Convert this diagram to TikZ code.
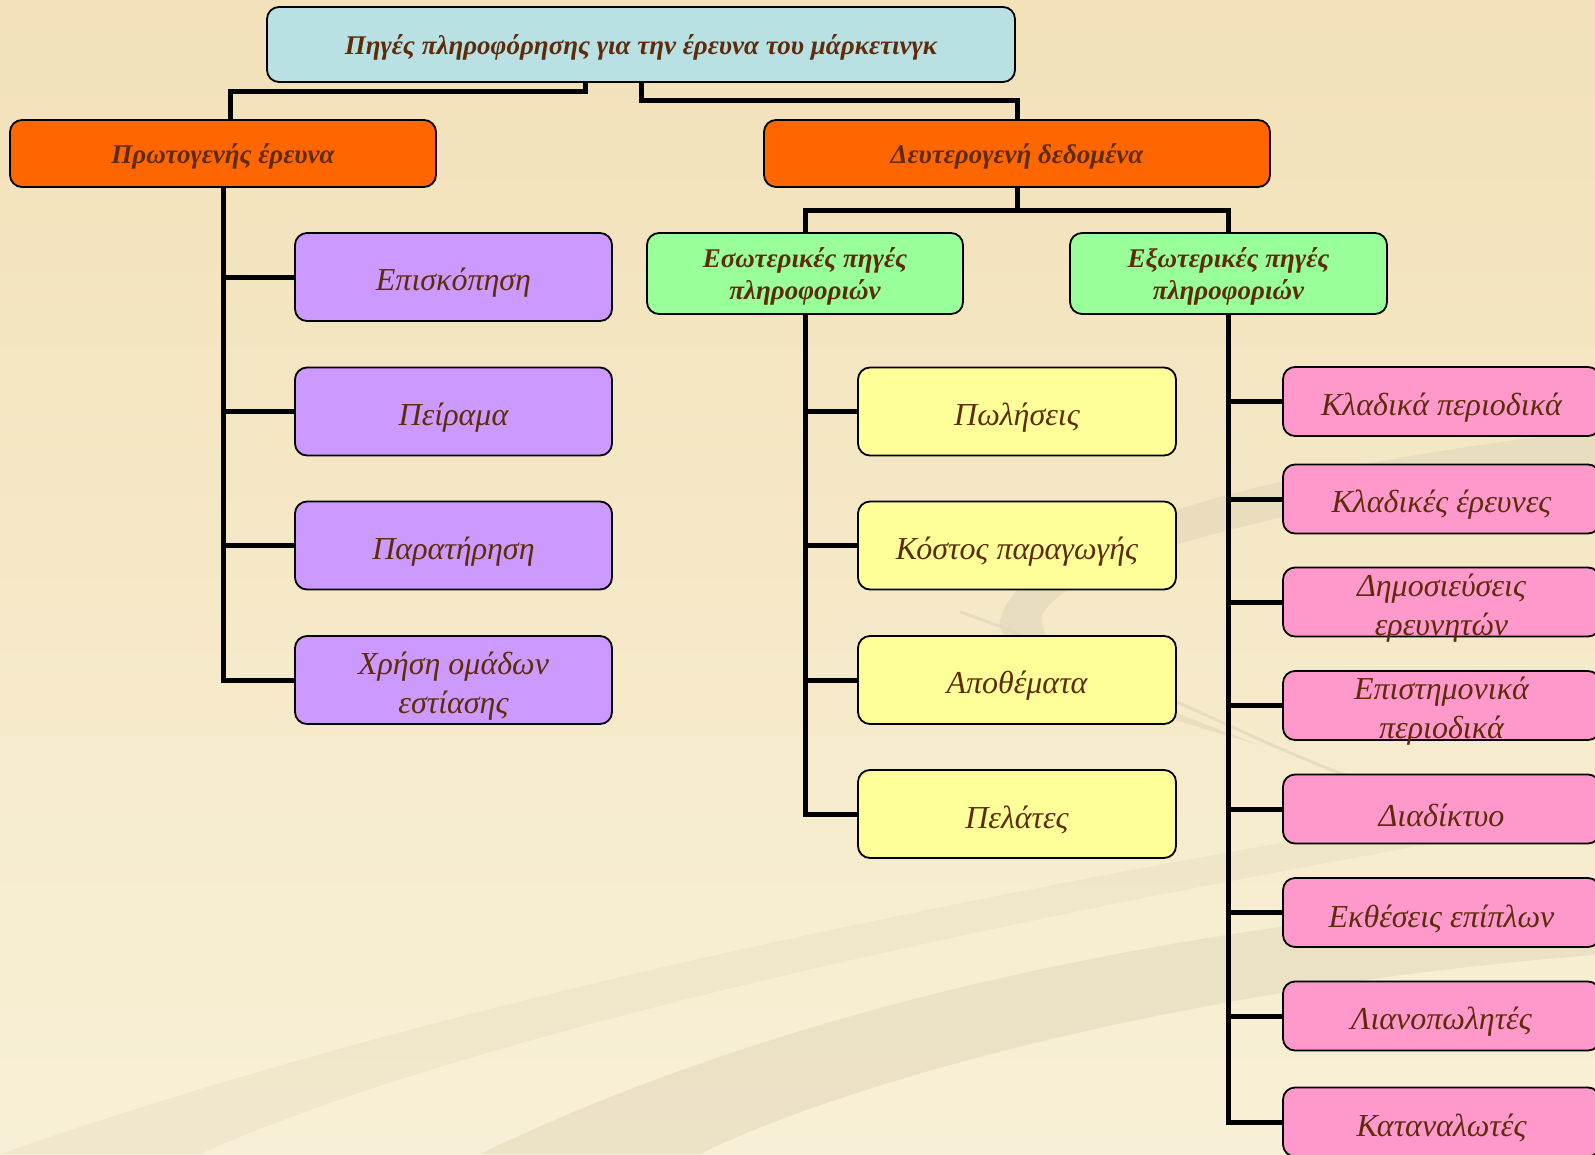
\documentclass[tikz,border=0pt]{standalone}
\usepackage{fontspec}
\setmainfont{Liberation Serif}
\usetikzlibrary{calc}
\definecolor{txt}{HTML}{5E2C0B}
\definecolor{bgtop}{HTML}{F2E1B9}
\definecolor{bgbot}{HTML}{F8F0D6}
\definecolor{swirl}{HTML}{E4D9BC}
\definecolor{cblue}{HTML}{B9E0E3}
\definecolor{corange}{HTML}{FF6600}
\definecolor{cpurple}{HTML}{CC99FF}
\definecolor{cgreen}{HTML}{99FF99}
\definecolor{cyellow}{HTML}{FFFF99}
\definecolor{cpink}{HTML}{FF99CC}
\tikzset{
  box/.style={draw=black, line width=1.8pt, rounded corners=12pt, inner sep=0pt},
  hdrtext/.style={text=txt, align=center, inner sep=0pt, yshift=-3pt, font=\fontsize{27}{32}\selectfont\bfseries\itshape},
  itmtext/.style={text=txt, align=center, inner sep=0pt, yshift=-6pt, font=\fontsize{32}{39}\selectfont\itshape},
  conn/.style={draw=black, line width=5pt},
}
% \bx{style}{fill}{name}{position}{width}{height}{text}
\newcommand{\bx}[7]{%
  \node[box, fill=#2, minimum width=#5, minimum height=#6] (#3) at (#4) {};
  \node[#1] (#3t) at (#3.center) {#7};
}
\begin{document}
\begin{tikzpicture}[x=1pt,y=-1pt]
\useasboundingbox (0,0) rectangle (1595,1154);
\clip (0,0) rectangle (1595,1154);
\shade[top color=bgtop, bottom color=bgbot] (0,0) rectangle (1595,1154);
% background swirls
\fill[swirl, opacity=0.7] (1595,430) .. controls (1250,470) and (1020,540) .. (1000,620)
   .. controls (995,660) and (1100,700) .. (1260,745)
   .. controls (1110,690) and (1035,650) .. (1042,615)
   .. controls (1070,560) and (1300,500) .. (1595,468) -- cycle;
\fill[swirl, opacity=0.6] (480,1154) .. controls (800,1000) and (1200,920) .. (1595,895)
   -- (1595,955) .. controls (1200,985) and (850,1080) .. (700,1154) -- cycle;
\fill[swirl, opacity=0.35] (0,1154) .. controls (500,980) and (1100,870) .. (1595,790)
   -- (1595,815) .. controls (1100,900) and (500,1020) .. (200,1154) -- cycle;
\draw[swirl, line width=3pt, opacity=0.8] (960,612) .. controls (1100,660) and (1250,740) .. (1345,775);

% nodes
\bx{hdrtext}{cblue}{top}{641,44.5}{748}{75}{Πηγές πληροφόρησης για την έρευνα του μάρκετινγκ}
\bx{hdrtext}{corange}{prim}{223,153.5}{426}{67}{Πρωτογενής έρευνα}
\bx{hdrtext}{corange}{sec}{1017,153.5}{506}{67}{Δευτερογενή δεδομένα}

\bx{itmtext}{cpurple}{p1}{453.5,277}{317}{88}{Επισκόπηση}
\bx{itmtext}{cpurple}{p2}{453.5,411.5}{317}{88}{Πείραμα}
\bx{itmtext}{cpurple}{p3}{453.5,545.5}{317}{88}{Παρατήρηση}
\bx{itmtext}{cpurple}{p4}{453.5,680}{317}{88}{Χρήση ομάδων\\εστίασης}

\bx{hdrtext}{cgreen}{gl}{805,273.5}{316}{81}{Εσωτερικές πηγές\\πληροφοριών}
\bx{hdrtext}{cgreen}{gr}{1228.5,273.5}{317}{81}{Εξωτερικές πηγές\\πληροφοριών}

\bx{itmtext}{cyellow}{y1}{1017,411.5}{318}{88}{Πωλήσεις}
\bx{itmtext}{cyellow}{y2}{1017,545.5}{318}{88}{Κόστος παραγωγής}
\bx{itmtext}{cyellow}{y3}{1017,680}{318}{88}{Αποθέματα}
\bx{itmtext}{cyellow}{y4}{1017,814}{318}{88}{Πελάτες}

\bx{itmtext}{cpink}{k1}{1441.5,401.5}{317}{69}{Κλαδικά περιοδικά}
\bx{itmtext}{cpink}{k2}{1441.5,499}{317}{69}{Κλαδικές έρευνες}
\bx{itmtext}{cpink}{k3}{1441.5,602}{317}{69}{Δημοσιεύσεις\\ερευνητών}
\bx{itmtext}{cpink}{k4}{1441.5,705.5}{317}{69}{Επιστημονικά\\περιοδικά}
\bx{itmtext}{cpink}{k5}{1441.5,809}{317}{69}{Διαδίκτυο}
\bx{itmtext}{cpink}{k6}{1441.5,912.5}{317}{69}{Εκθέσεις επίπλων}
\bx{itmtext}{cpink}{k7}{1441.5,1016}{317}{69}{Λιανοπωλητές}
\bx{itmtext}{cpink}{k8}{1441.5,1122}{317}{69}{Καταναλωτές}

% connectors
\draw[conn] ([xshift=-56pt]top.south) -- ++(0,9) -| ([xshift=7pt]prim.north);
\draw[conn] (top.south) -- ++(0,18) -| (sec.north);
\draw[conn] (sec.south) -- ++(0,23) coordinate (sbar);
\draw[conn] (gl.north) |- (sbar) -| (gr.north);

\draw[conn] (prim.south) |- (p4.west);
\foreach \n in {p1,p2,p3} \draw[conn] (prim.south |- \n.west) -- (\n.west);

\draw[conn] (gl.south) |- (y4.west);
\foreach \n in {y1,y2,y3} \draw[conn] (gl.south |- \n.west) -- (\n.west);

\draw[conn] (gr.south) |- (k8.west);
\foreach \n in {k1,k2,k3,k4,k5,k6,k7} \draw[conn] (gr.south |- \n.west) -- (\n.west);
\end{tikzpicture}
\end{document}
